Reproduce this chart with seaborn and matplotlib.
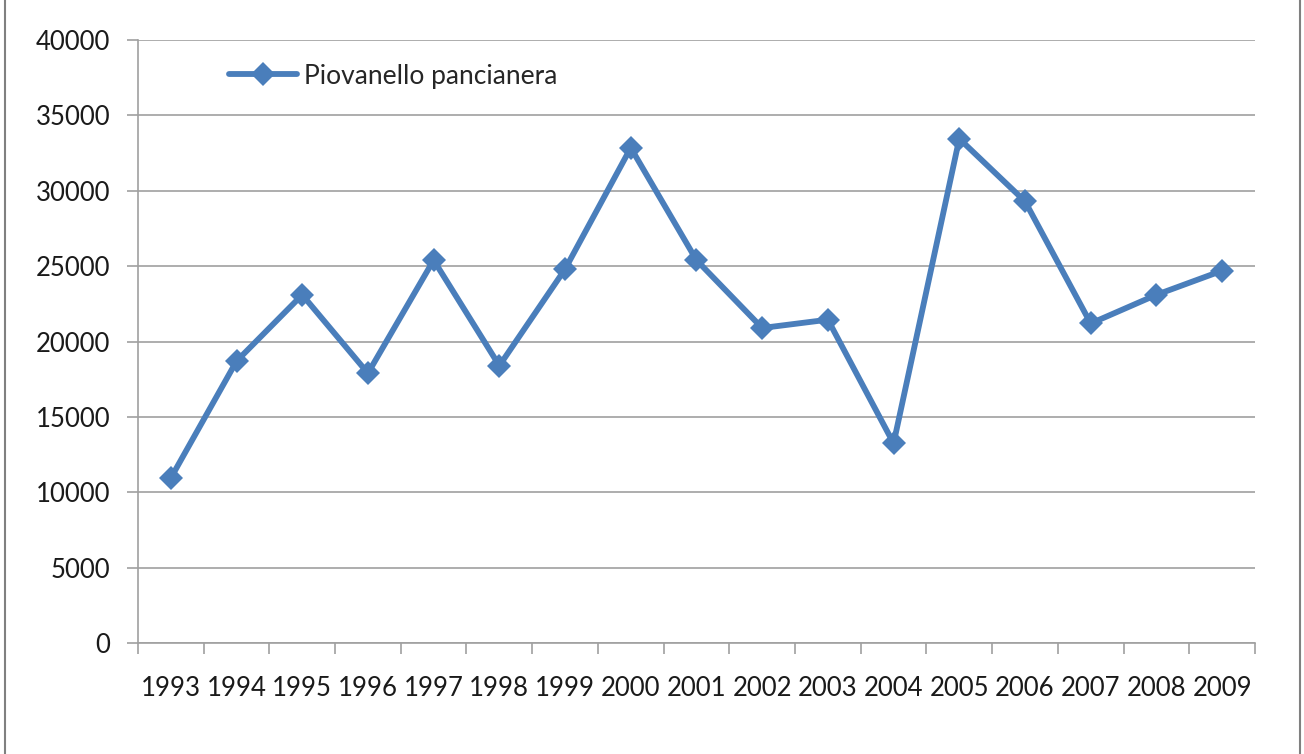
# Line chart: Piovanello pancianera counts per year
import matplotlib
matplotlib.use('Agg')
import matplotlib.pyplot as plt
import pandas as pd
import seaborn as sns
from matplotlib.patches import Rectangle

# Data
years = ['1993', '1994', '1995', '1996', '1997', '1998', '1999', '2000', '2001',
         '2002', '2003', '2004', '2005', '2006', '2007', '2008', '2009']
counts = [10950, 18700, 23100, 17900, 25400, 18400, 24800, 32850, 25400,
          20900, 21450, 13250, 33450, 29300, 21200, 23100, 24700]
series_name = 'Piovanello pancianera'
y_ticks = [0, 5000, 10000, 15000, 20000, 25000, 30000, 35000, 40000]

df = pd.DataFrame({'Anno': years, 'Conteggio': counts})

sns.set_style('white')
plt.rcParams['font.family'] = ['Lato', 'DejaVu Sans']

fig = plt.figure(figsize=(13.04, 7.54), dpi=100)
ax = fig.add_axes([0.1058, 0.147, 0.8566, 0.8])

sns.lineplot(data=df, x='Anno', y='Conteggio', ax=ax, color='#4A7EBB',
             linewidth=4.2, marker='D', markersize=12.5, markeredgewidth=0,
             label=series_name)

# Axes limits and grid
ax.set_xlim(-0.5, len(years) - 0.5)
ax.set_ylim(0, 40000)
ax.set_yticks(y_ticks)
ax.set_yticklabels([str(v) for v in y_ticks])
ax.yaxis.grid(True, color='#A0A0A0', linewidth=1.2)
ax.xaxis.grid(False)
ax.set_axisbelow(True)

# Category ticks between years
ax.set_xticks(range(len(years)))
ax.set_xticklabels(years)
ax.set_xticks([i - 0.5 for i in range(len(years) + 1)], minor=True)
ax.tick_params(axis='x', which='major', length=0, pad=24, labelsize=18.5,
               colors='#1a1a1a')
ax.tick_params(axis='x', which='minor', length=8, width=1.2, color='#A0A0A0',
               direction='out', bottom=True)
ax.tick_params(axis='y', length=8, width=1.2, color='#A0A0A0', pad=12,
               labelsize=18.5, labelcolor='#1a1a1a', left=True)

ax.set_xlabel('')
ax.set_ylabel('')
for side in ['top', 'right']:
    ax.spines[side].set_visible(False)
for side in ['left', 'bottom']:
    ax.spines[side].set_color('#A0A0A0')
    ax.spines[side].set_linewidth(1.2)

# Legend
leg = ax.legend(loc='upper left', bbox_to_anchor=(0.06, 1.0), frameon=False,
                fontsize=19, handlelength=2.6, handletextpad=0.25)

# Outer chart frame
fig.patches.append(Rectangle((0.004, -0.01), 0.993, 1.02, transform=fig.transFigure,
                             fill=False, edgecolor='#808080', linewidth=1.5))

fig.savefig('out.png', dpi=100, facecolor='white')
